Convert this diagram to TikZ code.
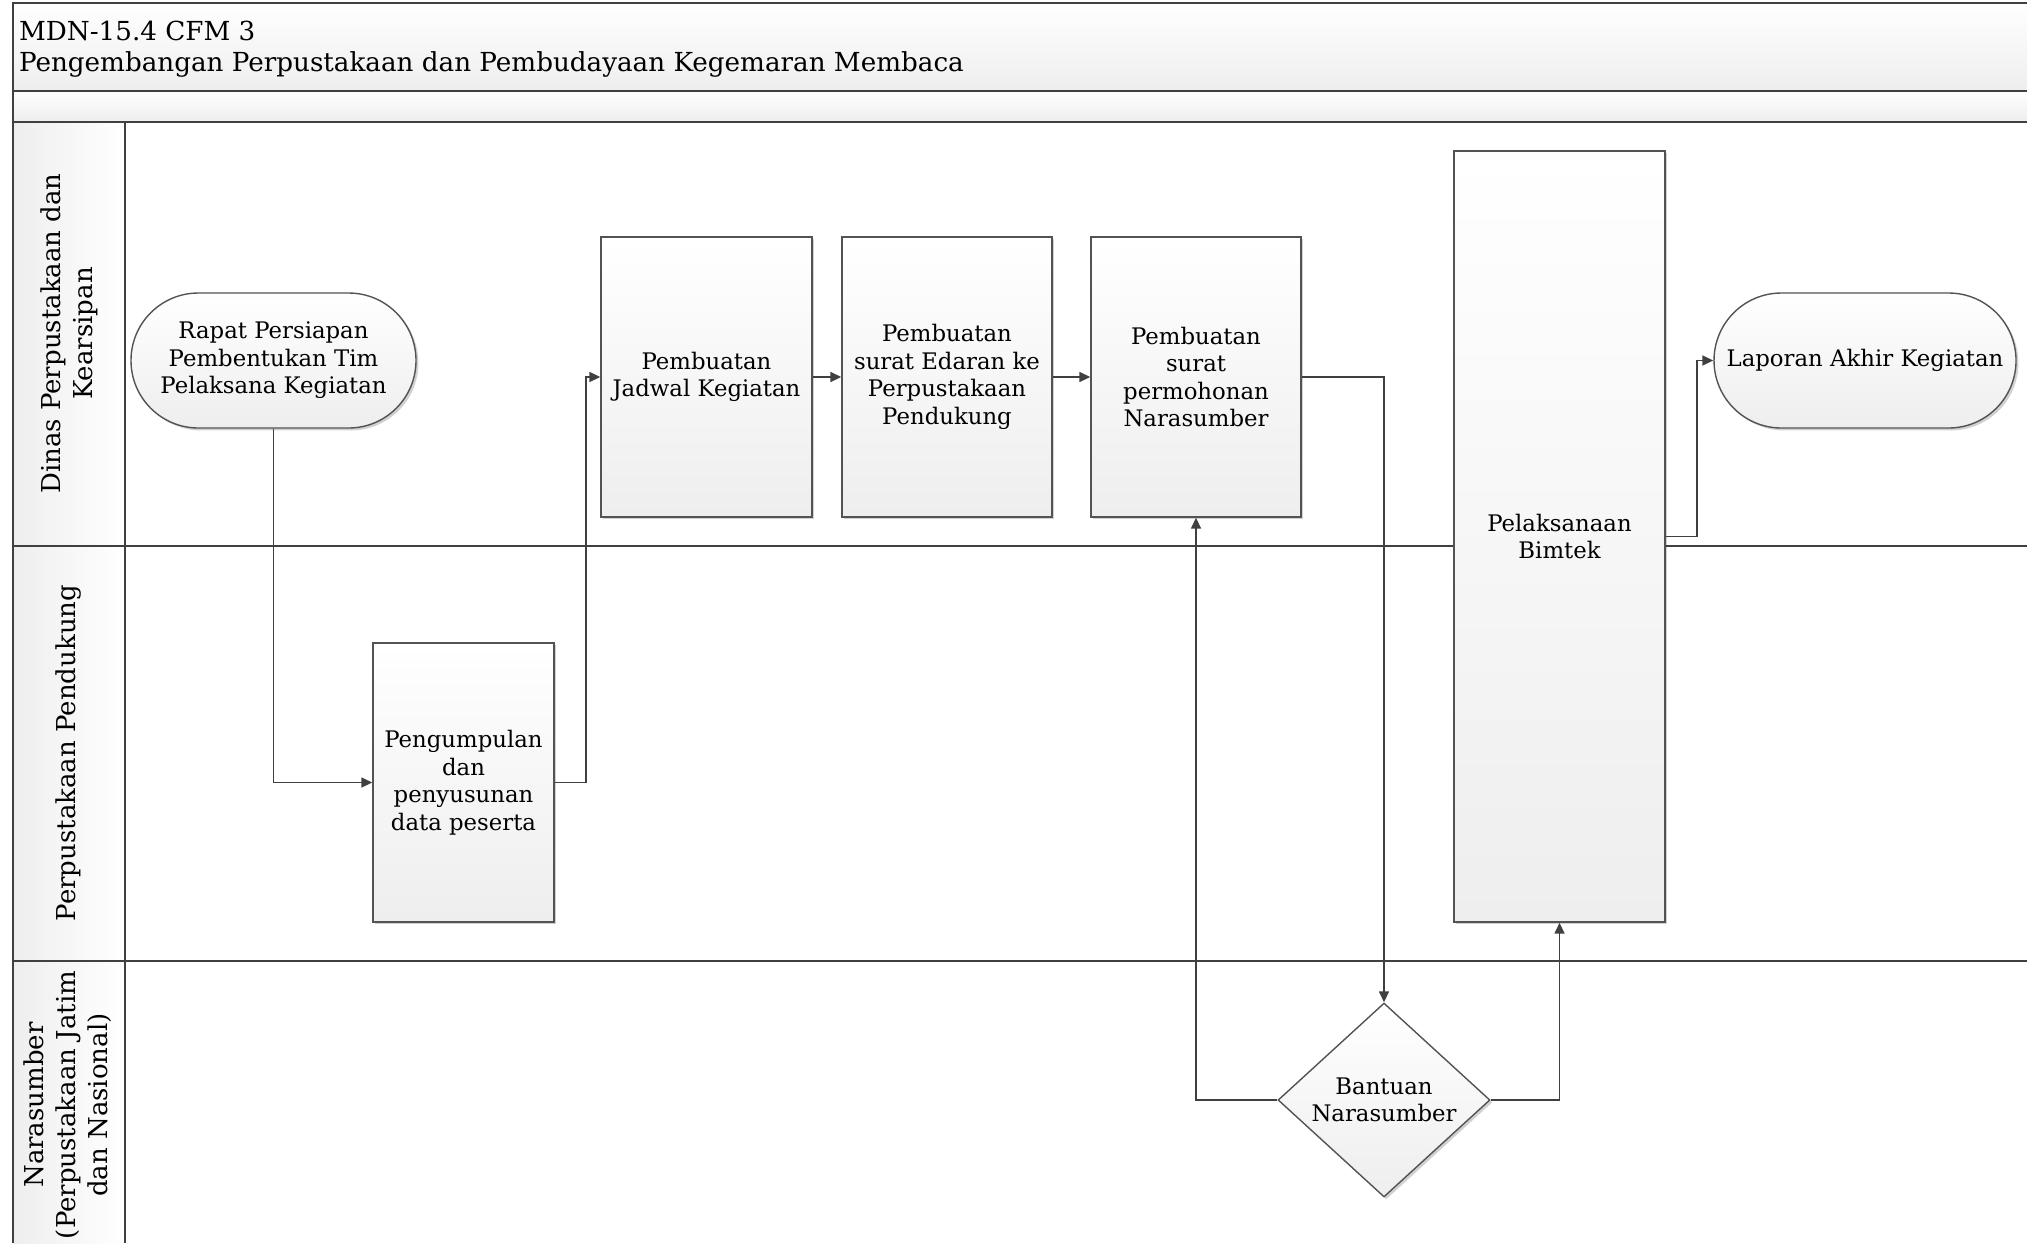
\documentclass[tikz,border=0pt]{standalone}
\usepackage{fontspec}
\setmainfont{DejaVu Serif}
\usetikzlibrary{arrows.meta,shapes.geometric,shadows,calc}
\definecolor{ln}{HTML}{404040}
\definecolor{shadeb}{HTML}{EEEEEE}
\begin{document}
\begin{tikzpicture}[x=0.5pt,y=-0.5pt,
  frame/.style={draw=ln,line width=1pt},
  proc/.style={draw=ln!90,line width=0.7pt,top color=white,bottom color=shadeb,
    drop shadow={shadow xshift=1.2pt,shadow yshift=-1.2pt,fill=black,opacity=0.18},
    align=center,inner sep=2pt,font=\fontsize{11.4}{13.75}\selectfont},
  term/.style={proc,rounded corners=33.7pt,minimum height=67.5pt},
  dec/.style={proc,diamond,inner sep=0pt,minimum width=106pt,minimum height=97pt},
  lanelbl/.style={rotate=90,align=center,font=\fontsize{13}{16}\selectfont},
  arr/.style={draw=ln,line width=0.8pt,-{Triangle[length=5.5pt,width=5pt]}},
  con/.style={draw=ln,line width=0.8pt}]
\useasboundingbox (0,0) rectangle (2027,1243);
% bands
\shade[top color=white,bottom color=shadeb] (13,3) rectangle (2027,90.5);
\shade[top color=white,bottom color=shadeb] (13,90.5) rectangle (2027,121.5);
\shade[left color=shadeb,right color=white] (13,121.5) rectangle (125,1243);
\draw[frame] (2027,3) -- (13,3) -- (13,1243);
\draw[frame] (13,90.5) -- (2027,90.5);
\draw[frame] (13,121.5) -- (2027,121.5);
\draw[frame] (125,121.5) -- (125,1243);
\draw[frame] (13,545.5) -- (2027,545.5);
\draw[frame] (13,960.5) -- (2027,960.5);
% title
\node[anchor=west,align=left,font=\fontsize{13.1}{15.5}\selectfont] (title) at (12,49)
  {MDN-15.4 CFM 3\\Pengembangan Perpustakaan dan Pembudayaan Kegemaran Membaca};
% lane labels
\node[lanelbl] (l1) at (69,333.5) {Dinas Perpustakaan dan\\Kearsipan};
\node[lanelbl] (l2) at (69,753) {Perpustakaan Pendukung};
\node[lanelbl] (l3) at (68,1105) {Narasumber\\(Perpustakaan Jatim\\dan Nasional)};
% shapes
\node[term,minimum width=142.5pt] (rapat) at (273.5,360.5) {Rapat Persiapan\\Pembentukan Tim\\Pelaksana Kegiatan};
\node[proc,minimum width=90.5pt,minimum height=139.5pt] (peng) at (463.5,782.5) {Pengumpulan\\dan\\penyusunan\\data peserta};
\node[proc,minimum width=105.5pt,minimum height=140pt] (jadwal) at (706.5,377) {Pembuatan\\Jadwal Kegiatan};
\node[proc,minimum width=105pt,minimum height=140pt] (edaran) at (947,377) {Pembuatan\\surat Edaran ke\\Perpustakaan\\Pendukung};
\node[proc,minimum width=105pt,minimum height=140pt] (perm) at (1196,377) {Pembuatan\\surat\\permohonan\\Narasumber};
\node[proc,minimum width=105.5pt,minimum height=385.5pt] (pel) at (1559.5,536.5) {Pelaksanaan\\Bimtek};
\node[term,minimum width=151pt] (lap) at (1865,360.5) {Laporan Akhir Kegiatan};
\node[dec] (bantuan) at (1384,1100) {Bantuan\\Narasumber};
% connectors
\draw[arr] (rapat.south) |- (peng.west);
\draw[arr] (peng.east) -- ++(31,0) |- (jadwal.west);
\draw[arr] (jadwal) -- (edaran);
\draw[arr] (edaran) -- (perm);
\draw[arr] (perm.east) -| (bantuan.north);
\draw[arr] (bantuan.west) -| (perm.south);
\draw[arr] (bantuan.east) -| (pel.south);
\draw[arr] (pel.east) -- ++(31,0) |- (lap.west);
\end{tikzpicture}
\end{document}
